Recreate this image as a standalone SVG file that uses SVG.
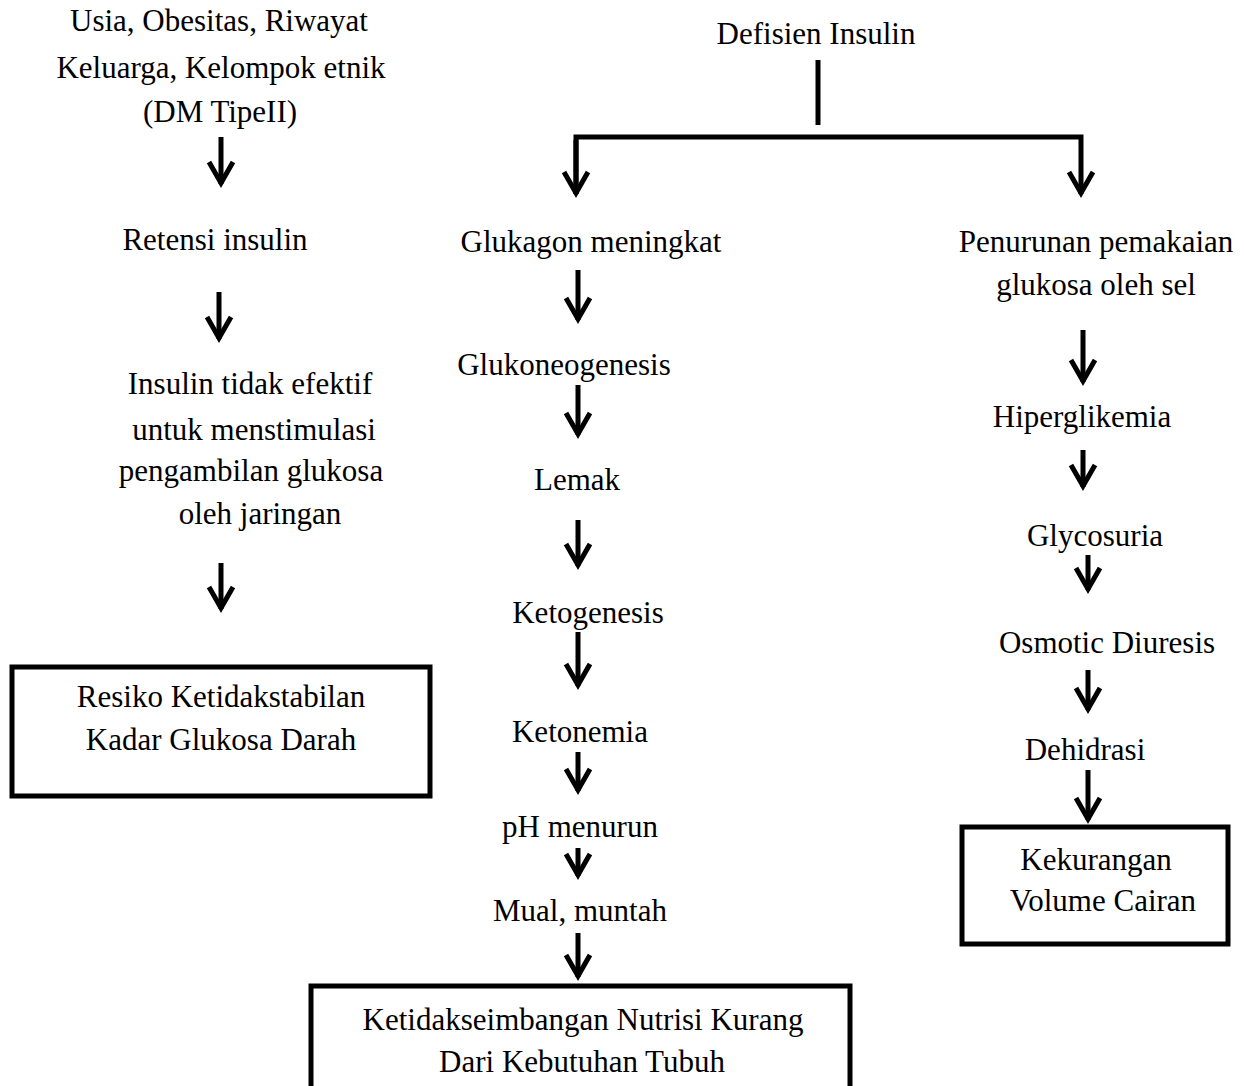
<svg xmlns="http://www.w3.org/2000/svg" width="1244" height="1086" viewBox="0 0 1244 1086">
<style>
text{font-family:"Liberation Serif","Times New Roman",serif;font-size:31px;fill:#000;text-anchor:middle}
.c{fill:none;stroke:#000;stroke-width:5}
.box{fill:#fff;stroke:#000;stroke-width:5}
</style>
<defs>
<marker id="ah" markerUnits="userSpaceOnUse" markerWidth="40" markerHeight="40" viewBox="-30 -20 40 40" refX="0" refY="0" orient="auto" overflow="visible">
<path d="M-22,-12 L-1,0 L-22,12" fill="none" stroke="#000" stroke-width="5"/>
</marker>
</defs>
<rect width="1244" height="1086" fill="#fff"/>
<g id="connectors">
<path class="c" d="M221,137 V184" marker-end="url(#ah)"/>
<path class="c" d="M219,292 V339" marker-end="url(#ah)"/>
<path class="c" d="M221,563 V609" marker-end="url(#ah)"/>
<path class="c" d="M818,60 V125"/>
<path class="c" d="M576,194 V137 H1081 V194" marker-end="url(#ah)"/>
<path class="c" d="M576,140 V194" marker-end="url(#ah)"/>
<path class="c" d="M578,270 V320" marker-end="url(#ah)"/>
<path class="c" d="M578,385 V435" marker-end="url(#ah)"/>
<path class="c" d="M578,520 V566" marker-end="url(#ah)"/>
<path class="c" d="M578,632 V686" marker-end="url(#ah)"/>
<path class="c" d="M578,752 V791" marker-end="url(#ah)"/>
<path class="c" d="M578,848 V876" marker-end="url(#ah)"/>
<path class="c" d="M578,933 V977" marker-end="url(#ah)"/>
<path class="c" d="M1083,330 V382" marker-end="url(#ah)"/>
<path class="c" d="M1083,450 V487" marker-end="url(#ah)"/>
<path class="c" d="M1088,555 V590" marker-end="url(#ah)"/>
<path class="c" d="M1088,670 V710" marker-end="url(#ah)"/>
<path class="c" d="M1088,770 V820" marker-end="url(#ah)"/>
</g>
<g id="n-risk"><text x="219" y="31">Usia, Obesitas, Riwayat</text><text x="221" y="78">Keluarga, Kelompok etnik</text><text x="220" y="122">(DM TipeII)</text></g>
<g id="n-retensi"><text x="215" y="250">Retensi insulin</text></g>
<g id="n-insulin"><text x="250" y="394">Insulin tidak efektif</text><text x="254" y="440">untuk menstimulasi</text><text x="251" y="481">pengambilan glukosa</text><text x="260" y="524">oleh jaringan</text></g>
<g id="n-resiko"><rect class="box" x="12" y="667" width="418" height="129"/><text x="221" y="707">Resiko Ketidakstabilan</text><text x="221" y="750">Kadar Glukosa Darah</text></g>
<g id="n-defisien"><text x="816" y="44">Defisien Insulin</text></g>
<g id="n-glukagon"><text x="591" y="252">Glukagon meningkat</text></g>
<g id="n-glukoneo"><text x="564" y="375">Glukoneogenesis</text></g>
<g id="n-lemak"><text x="577" y="490">Lemak</text></g>
<g id="n-ketogenesis"><text x="588" y="623">Ketogenesis</text></g>
<g id="n-ketonemia"><text x="580" y="742">Ketonemia</text></g>
<g id="n-ph"><text x="580" y="837">pH menurun</text></g>
<g id="n-mual"><text x="580" y="921">Mual, muntah</text></g>
<g id="n-nutrisi"><rect class="box" x="311" y="986" width="539" height="110"/><text x="583" y="1030">Ketidakseimbangan Nutrisi Kurang</text><text x="582" y="1072">Dari Kebutuhan Tubuh</text></g>
<g id="n-penurunan"><text x="1096" y="252">Penurunan pemakaian</text><text x="1096" y="295">glukosa oleh sel</text></g>
<g id="n-hiper"><text x="1082" y="427">Hiperglikemia</text></g>
<g id="n-glyco"><text x="1095" y="546">Glycosuria</text></g>
<g id="n-osmotic"><text x="1107" y="653">Osmotic Diuresis</text></g>
<g id="n-dehidrasi"><text x="1085" y="760">Dehidrasi</text></g>
<g id="n-kekurangan"><rect class="box" x="962" y="827" width="266" height="117"/><text x="1096" y="870">Kekurangan</text><text x="1103" y="911">Volume Cairan</text></g>
</svg>
